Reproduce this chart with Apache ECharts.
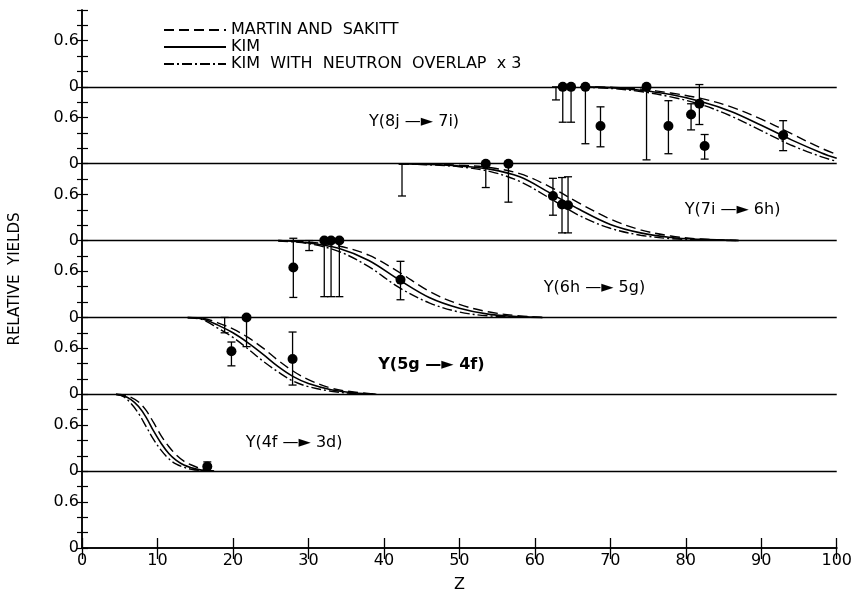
<!DOCTYPE html>
<html>
<head>
<meta charset="utf-8">
<script src="https://cdn.jsdelivr.net/npm/echarts@6/dist/echarts.min.js"></script>
<style>
  html, body { margin: 0; padding: 0; background: #fff; }
  #chart { width: 855px; height: 598px; }
</style>
</head>
<body>
<div id="chart"></div>
<script>
// model curves (yield vs Z) for each transition
const z8j = [66, 70, 74, 78, 82, 86, 90, 94, 98, 100]
const martin8j = [1.0, 0.995, 0.97, 0.92, 0.85, 0.74, 0.58, 0.39, 0.2, 0.12]
const kim8j = [1.0, 0.99, 0.955, 0.9, 0.81, 0.68, 0.5, 0.31, 0.14, 0.07]
const kimN8j = [0.995, 0.98, 0.94, 0.87, 0.77, 0.62, 0.43, 0.24, 0.09, 0.03]

const z7i = [42, 46, 50, 54, 58, 62, 66, 70, 74, 78, 82, 87]
const martin7i = [1.0, 0.995, 0.98, 0.95, 0.87, 0.7, 0.48, 0.28, 0.14, 0.06, 0.02, 0]
const kim7i = [1.0, 0.99, 0.97, 0.93, 0.83, 0.62, 0.4, 0.21, 0.1, 0.04, 0.015, 0]
const kimN7i = [1.0, 0.985, 0.96, 0.9, 0.77, 0.55, 0.32, 0.16, 0.07, 0.025, 0.008, 0]

const z6h = [26, 30, 34, 38, 42, 46, 50, 54, 58, 61]
const martin6h = [1.0, 0.98, 0.93, 0.81, 0.59, 0.34, 0.17, 0.07, 0.02, 0]
const kim6h = [1.0, 0.97, 0.9, 0.74, 0.49, 0.26, 0.12, 0.04, 0.01, 0]
const kimN6h = [0.995, 0.96, 0.86, 0.66, 0.39, 0.19, 0.07, 0.02, 0.005, 0]

const z5g = [14, 16, 18, 20, 22, 24, 26, 28, 30, 33, 36, 39]
const martin5g = [1.0, 0.99, 0.93, 0.85, 0.74, 0.6, 0.44, 0.3, 0.19, 0.08, 0.03, 0]
const kim5g = [1.0, 0.98, 0.9, 0.8, 0.67, 0.52, 0.36, 0.23, 0.14, 0.06, 0.02, 0]
const kimN5g = [0.995, 0.97, 0.86, 0.74, 0.59, 0.43, 0.29, 0.17, 0.1, 0.04, 0.01, 0]

const z4f = [4.5, 5.5, 6.5, 7.5, 8.5, 9.5, 10.5, 11.5, 12.5, 13.5, 14.5, 15.5, 16.5, 17.5]
const martin4f = [1.0, 0.99, 0.96, 0.9, 0.79, 0.63, 0.46, 0.32, 0.21, 0.13, 0.08, 0.04, 0.015, 0]
const kim4f = [1.0, 0.98, 0.93, 0.84, 0.7, 0.52, 0.36, 0.23, 0.14, 0.08, 0.045, 0.02, 0.008, 0]
const kimN4f = [0.995, 0.97, 0.88, 0.75, 0.58, 0.41, 0.27, 0.16, 0.09, 0.05, 0.025, 0.01, 0.003, 0]

// measured yields [Z, yield] and error bars [Z, low, high]
const pts8j = [[63.7, 1.0], [64.8, 1.0], [66.7, 1.0], [68.7, 0.49], [74.8, 1.0], [77.7, 0.49],
  [80.7, 0.64], [81.8, 0.78], [82.5, 0.23], [92.9, 0.37]]
const err8j = [[62.8, 0.83, 1.0], [63.7, 0.54, 1.0], [64.8, 0.54, 1.0], [66.7, 0.26, 1.0],
  [68.7, 0.22, 0.74], [74.8, 0.05, 1.0], [77.7, 0.13, 0.82], [80.7, 0.44, 0.78],
  [81.8, 0.51, 1.03], [82.5, 0.06, 0.38], [92.9, 0.17, 0.56]]

const pts7i = [[53.5, 1.0], [56.5, 1.0], [62.4, 0.58], [63.6, 0.47], [64.4, 0.46]]
const err7i = [[42.4, 0.58, 1.0], [53.5, 0.69, 1.0], [56.5, 0.5, 1.0], [62.4, 0.33, 0.81],
  [63.6, 0.1, 0.82], [64.4, 0.1, 0.83]]

const pts6h = [[28.0, 0.65], [32.1, 1.0], [33.0, 1.0], [34.1, 1.0], [42.2, 0.49]]
const err6h = [[28.0, 0.26, 1.03], [30.1, 0.87, 1.0], [32.1, 0.27, 1.0], [33.0, 0.27, 1.0],
  [34.1, 0.27, 1.0], [42.2, 0.23, 0.73]]

const pts5g = [[19.8, 0.56], [21.8, 1.0], [27.9, 0.46]]
const err5g = [[18.9, 0.8, 1.0], [19.8, 0.37, 0.68], [21.8, 0.62, 1.0], [27.9, 0.12, 0.81]]

const pts4f = [[16.6, 0.06]]
const err4f = [[16.6, 0.0, 0.12]]

const MARTIN = 'MARTIN AND  SAKITT'
const KIM = 'KIM'
const KIMN = 'KIM  WITH  NEUTRON  OVERLAP  x 3'

// each transition sits on its own band, one unit high
const panels = [
  { base: 5, z: z8j, martin: martin8j, kim: kim8j, kimN: kimN8j, pts: pts8j, err: err8j },
  { base: 4, z: z7i, martin: martin7i, kim: kim7i, kimN: kimN7i, pts: pts7i, err: err7i },
  { base: 3, z: z6h, martin: martin6h, kim: kim6h, kimN: kimN6h, pts: pts6h, err: err6h },
  { base: 2, z: z5g, martin: martin5g, kim: kim5g, kimN: kimN5g, pts: pts5g, err: err5g },
  { base: 1, z: z4f, martin: martin4f, kim: kim4f, kimN: kimN4f, pts: pts4f, err: err4f }
]

const ink = '#000'
const font = 'DejaVu Sans'

function curve(name, p, vals, type, width) {
  return {
    name: name,
    type: 'line',
    data: p.z.map((z, i) => [z, p.base + vals[i]]),
    smooth: 0.35,
    symbol: 'none',
    showSymbol: false,
    silent: true,
    lineStyle: { color: ink, width: width, type: type },
    itemStyle: { color: ink },
    z: 3
  }
}

function renderErr(params, api) {
  const lo = api.coord([api.value(0), api.value(1)])
  const hi = api.coord([api.value(0), api.value(2)])
  const cap = 4
  const st = { stroke: ink, lineWidth: 1.3 }
  return {
    type: 'group',
    children: [
      { type: 'line', shape: { x1: lo[0], y1: lo[1], x2: hi[0], y2: hi[1] }, style: st },
      { type: 'line', shape: { x1: lo[0] - cap, y1: lo[1], x2: lo[0] + cap, y2: lo[1] }, style: st },
      { type: 'line', shape: { x1: hi[0] - cap, y1: hi[1], x2: hi[0] + cap, y2: hi[1] }, style: st }
    ]
  }
}

const series = []

// zero lines of every band
series.push({
  name: 'bands',
  type: 'line',
  data: [],
  silent: true,
  markLine: {
    silent: true,
    symbol: 'none',
    label: { show: false },
    lineStyle: { color: ink, width: 1.3, type: 'solid' },
    data: [1, 2, 3, 4, 5, 6].map(v => ({ yAxis: v }))
  }
})

panels.forEach(p => {
  series.push(curve(MARTIN, p, p.martin, [10, 5], 1.4))
  series.push(curve(KIM, p, p.kim, 'solid', 1.6))
  series.push(curve(KIMN, p, p.kimN, [10, 3, 2, 3], 1.4))
  series.push({
    type: 'custom',
    renderItem: renderErr,
    data: p.err.map(e => [e[0], p.base + e[1], p.base + e[2]]),
    encode: { x: 0, y: [1, 2] },
    silent: true,
    z: 4
  })
  series.push({
    type: 'scatter',
    data: p.pts.map(q => [q[0], p.base + q[1]]),
    symbol: 'circle',
    symbolSize: 10,
    itemStyle: { color: ink, opacity: 1 },
    silent: true,
    z: 5
  })
})

// transition labels
const lbl = (z, y, text, bold) => ({
  value: [z, y],
  label: {
    show: true, position: 'inside', formatter: text,
    fontFamily: font, fontSize: 16, color: ink, fontWeight: bold ? 'bold' : 'normal'
  }
})
series.push({
  type: 'scatter',
  symbolSize: 0,
  silent: true,
  itemStyle: { opacity: 1 },
  data: [
    lbl(44.0, 5.55, 'Y(8j \u2014\u25BA 7i)'),
    lbl(86.2, 4.4, 'Y(7i \u2014\u25BA 6h)'),
    lbl(67.9, 3.38, 'Y(6h \u2014\u25BA 5g)'),
    lbl(46.3, 2.38, 'Y(5g \u2014\u25BA 4f)', true),
    lbl(28.1, 1.37, 'Y(4f \u2014\u25BA 3d)')
  ],
  z: 6
})

const chart = echarts.init(document.getElementById('chart'))
chart.setOption({
  animation: false,
  backgroundColor: '#fff',
  grid: { left: 81.5, right: 8.5, top: 10, bottom: 43 },
  legend: {
    data: [MARTIN, KIM, KIMN],
    orient: 'vertical',
    left: 158,
    top: 17,
    itemWidth: 62,
    itemHeight: 12,
    itemGap: 1,
    selectedMode: false,
    itemStyle: { opacity: 0 },
    textStyle: { fontFamily: font, fontSize: 16, lineHeight: 16, color: ink }
  },
  xAxis: [{
    type: 'value',
    min: 0,
    max: 100,
    interval: 10,
    position: 'bottom',
    name: 'Z',
    nameLocation: 'middle',
    nameGap: 29,
    nameTextStyle: { fontFamily: font, fontSize: 16, color: ink },
    axisLine: { lineStyle: { color: ink, width: 1.5 } },
    axisTick: { inside: true, length: 10, lineStyle: { color: ink, width: 1.3 } },
    axisLabel: { fontFamily: font, fontSize: 16, color: ink, margin: 5 },
    splitLine: { show: false }
  }, {
    type: 'value',
    min: 0,
    max: 100,
    interval: 10,
    position: 'top',
    axisLine: { lineStyle: { color: ink, width: 1.5 } },
    axisTick: { inside: true, length: 11, lineStyle: { color: ink, width: 1.3 } },
    axisLabel: { show: false },
    splitLine: { show: false }
  }],
  yAxis: [{
    type: 'value',
    min: 0,
    max: 7,
    interval: 0.2,
    position: 'left',
    name: 'RELATIVE  YIELDS',
    nameLocation: 'middle',
    nameGap: 59,
    nameTextStyle: { fontFamily: font, fontSize: 15, color: ink },
    axisLine: { lineStyle: { color: ink, width: 1.5 } },
    axisTick: { inside: true, length: 6, lineStyle: { color: ink, width: 1.2 } },
    axisLabel: {
      fontFamily: font, fontSize: 16, color: ink, margin: 3,
      formatter: function (v) {
        const r = Math.round(v * 10) / 10
        if (r >= 7) return ''
        const frac = Math.round((r - Math.floor(r + 1e-6)) * 10) / 10
        if (frac === 0) return '0'
        if (frac === 0.6) return '0.6'
        return ''
      }
    },
    splitLine: { show: false }
  }, {
    type: 'value',
    min: 0,
    max: 7,
    interval: 0.2,
    position: 'right',
    axisLine: { lineStyle: { color: ink, width: 1.5 } },
    axisTick: { inside: true, length: 5, lineStyle: { color: ink, width: 1.2 } },
    axisLabel: { show: false },
    splitLine: { show: false }
  }],
  series: series
})
</script>
</body>
</html>
